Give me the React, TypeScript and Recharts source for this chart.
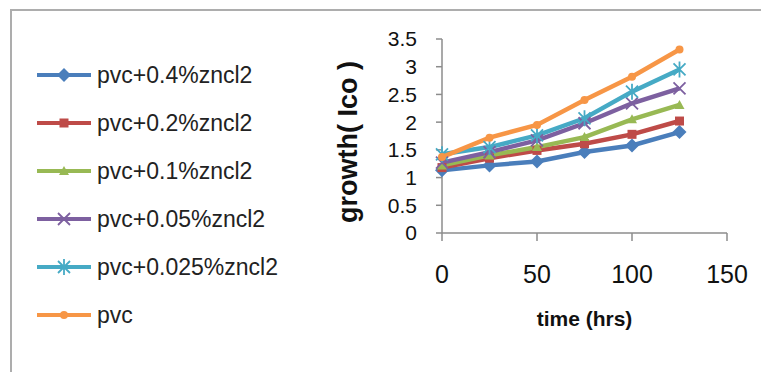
import React from "react";
import { LineChart, Line, XAxis, YAxis } from "recharts";

const times = [0, 25, 50, 75, 100, 125];
const pvc04 = [1.13, 1.22, 1.29, 1.46, 1.58, 1.82];
const pvc02 = [1.18, 1.35, 1.49, 1.61, 1.78, 2.02];
const pvc01 = [1.22, 1.4, 1.55, 1.73, 2.05, 2.31];
const pvc005 = [1.27, 1.46, 1.67, 1.98, 2.34, 2.61];
const pvc0025 = [1.42, 1.55, 1.76, 2.07, 2.55, 2.95];
const pvcPlain = [1.37, 1.72, 1.95, 2.4, 2.82, 3.31];

const xTicks = [0, 50, 100, 150];
const yTicks = [0, 0.5, 1, 1.5, 2, 2.5, 3, 3.5];

const series = [
  { key: "a", name: "pvc+0.4%zncl2", values: pvc04, color: "#4a7ebb", shape: "diamond" },
  { key: "b", name: "pvc+0.2%zncl2", values: pvc02, color: "#be4b48", shape: "square" },
  { key: "c", name: "pvc+0.1%zncl2", values: pvc01, color: "#98b954", shape: "triangle" },
  { key: "d", name: "pvc+0.05%zncl2", values: pvc005, color: "#7d60a0", shape: "cross" },
  { key: "e", name: "pvc+0.025%zncl2", values: pvc0025, color: "#46aac5", shape: "star" },
  { key: "f", name: "pvc", values: pvcPlain, color: "#f79646", shape: "circle" },
];

const data = times.map((t, i) => {
  const row: Record<string, number> = { t };
  series.forEach((s) => (row[s.key] = s.values[i]));
  return row;
});

const FONT = "'Liberation Sans', Arial, sans-serif";
const AXIS = "#8c8c8c";

function Marker({ cx, cy, shape, color }: { cx: number; cy: number; shape: string; color: string }) {
  if (cx == null || cy == null) return null;
  switch (shape) {
    case "diamond":
      return <path d={`M${cx},${cy - 7} L${cx + 7},${cy} L${cx},${cy + 7} L${cx - 7},${cy} Z`} fill={color} />;
    case "square":
      return <rect x={cx - 4.5} y={cy - 4.5} width={9} height={9} fill={color} />;
    case "triangle":
      return <path d={`M${cx},${cy - 5} L${cx + 5},${cy + 4} L${cx - 5},${cy + 4} Z`} fill={color} />;
    case "cross":
      return (
        <path
          d={`M${cx - 6},${cy - 6} L${cx + 6},${cy + 6} M${cx - 6},${cy + 6} L${cx + 6},${cy - 6}`}
          stroke={color}
          strokeWidth={1.8}
        />
      );
    case "star":
      return (
        <path
          d={`M${cx - 6},${cy - 6} L${cx + 6},${cy + 6} M${cx - 6},${cy + 6} L${cx + 6},${cy - 6} M${cx},${cy - 8} L${cx},${cy + 8}`}
          stroke={color}
          strokeWidth={1.8}
        />
      );
    default:
      return <circle cx={cx} cy={cy} r={4} fill={color} />;
  }
}

export default function App() {
  return (
    <div style={{ position: "relative", width: 761, height: 364, overflow: "hidden", background: "#fff" }}>
      <div
        style={{
          position: "absolute",
          left: 2,
          top: 1,
          width: 900,
          height: 500,
          border: "2px solid #adadad",
          boxSizing: "border-box",
        }}
      />
      <svg width={330} height={340} style={{ position: "absolute", left: 0, top: 0 }}>
        {series.map((s, i) => {
          const y = 67 + i * 48;
          return (
            <g key={s.key}>
              <line x1={29} x2={83} y1={y} y2={y} stroke={s.color} strokeWidth={4} />
              <Marker cx={56} cy={y} shape={s.shape} color={s.color} />
              <text x={89} y={y} dy="0.35em" fontFamily={FONT} fontSize={23} fill="#222">
                {s.name}
              </text>
            </g>
          );
        })}
      </svg>
      <LineChart
        width={761}
        height={364}
        data={data}
        margin={{ top: 31, right: 42, bottom: 79, left: 0 }}
        style={{ position: "absolute", left: 0, top: 0 }}
      >
        <XAxis
          dataKey="t"
          type="number"
          domain={[0, 150]}
          ticks={xTicks}
          height={60}
          stroke={AXIS}
          strokeWidth={1.5}
          tickSize={8}
          tickMargin={24}
          tick={{ fill: "#111", fontSize: 25, fontFamily: FONT }}
          label={{
            value: "time (hrs)",
            position: "insideBottom",
            offset: -33,
            style: { fontFamily: FONT, fontSize: 21, fontWeight: "bold", fill: "#111" },
          }}
        />
        <YAxis
          type="number"
          domain={[0, 3.5]}
          ticks={yTicks}
          width={434}
          stroke={AXIS}
          strokeWidth={1.5}
          tickSize={6}
          tickMargin={19}
          interval={0}
          tick={{ fill: "#111", fontSize: 21, fontFamily: FONT }}
          label={{
            content: () => (
              <text
                x={340}
                y={134}
                transform="rotate(-90 340 134)"
                textAnchor="middle"
                dominantBaseline="central"
                fontFamily={FONT}
                fontSize={27}
                fontWeight="bold"
                fill="#111"
              >
                growth( Ico )
              </text>
            ),
          }}
        />
        {series.map((s) => (
          <Line
            key={s.key}
            dataKey={s.key}
            name={s.name}
            stroke={s.color}
            strokeWidth={4.5}
            isAnimationActive={false}
            dot={(p: any) => <Marker key={`${s.key}-${p.index}`} cx={p.cx} cy={p.cy} shape={s.shape} color={s.color} />}
            activeDot={false}
          />
        ))}
      </LineChart>
    </div>
  );
}
